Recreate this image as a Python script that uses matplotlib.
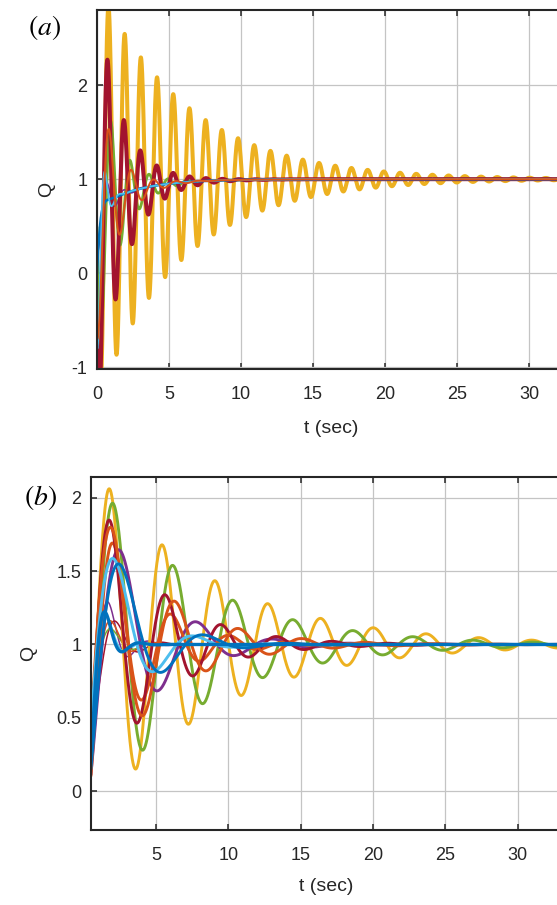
import numpy as np
import matplotlib
matplotlib.use('Agg')
import matplotlib.pyplot as plt

plt.rcParams['font.family'] = ['Liberation Sans', 'DejaVu Sans']
plt.rcParams['mathtext.fontset'] = 'stix'
plt.rcParams['axes.unicode_minus'] = False

# step responses described by first overshoot, time of first peak,
# oscillation period, decay ratio per period and a slow creeping term
a_colors = ['#EDB120', '#77AC30', '#7E2F8E', '#A2142F', '#0072BD', '#4DBEEE', '#D95319']
a_peak = [1.95, 0.83, 0.20, 1.50, -0.69, 0.30, 0.75]
a_tpeak = [0.80, 0.97, 0.70, 0.74, 0.00, 0.60, 0.85]
a_period = [1.125, 1.33, 1.20, 1.14, 2.00, 1.00, 1.55]
a_ratio = [0.83, 0.40, 0.20, 0.52, 1e-4, 0.05, 0.30]
a_slow_amp = [0.15, 0.31, 0.31, 0.31, 0.31, 0.31, 0.31]
a_slow_tau = 2.7
a_width = [2.9, 2.0, 1.2, 2.9, 1.8, 1.3, 1.4]

b_colors = ['#7E2F8E', '#4DBEEE', '#A2142F', '#77AC30', '#D95319',
            '#EDB120', '#77AC30', '#7E2F8E', '#D95319', '#A2142F',
            '#D95319', '#4DBEEE', '#0072BD', '#0072BD']
b_peak = [0.27, 0.18, 0.15, 0.10, 0.15,
          1.06, 0.96, 0.63, 0.68, 0.84, 0.79, 0.55, 0.52, 0.20]
b_tpeak = [1.80, 1.70, 2.30, 2.00, 2.00,
           1.80, 2.05, 2.60, 2.10, 1.84, 1.95, 2.30, 2.70, 1.60]
b_period = [2.8, 2.6, 3.2, 3.0, 3.0,
            3.65, 4.15, 5.3, 4.0, 3.85, 4.4, 5.5, 5.8, 2.4]
b_ratio = [0.08, 0.05, 0.10, 0.10, 0.08,
           0.64, 0.56, 0.24, 0.30, 0.40, 0.37, 0.10, 0.12, 0.05]
b_width = [1.1, 1.1, 1.1, 1.1, 1.1,
           2.1, 2.1, 2.1, 2.1, 2.1, 2.1, 2.1, 2.1, 2.4]


def response(t, peak, tp, period, ratio, slow_amp=0.0, slow_tau=1.0):
    sigma = -np.log(ratio) / period
    w = 2 * np.pi / period
    osc = peak * np.exp(-sigma * (t - tp)) * np.cos(w * (t - tp))
    return 1 - slow_amp * np.exp(-t / slow_tau) + osc


def style(ax):
    ax.grid(True, color='#c4c4c4', lw=0.9)
    ax.set_axisbelow(True)
    ax.tick_params(direction='in', length=4, width=1.1, top=True,
                   labelsize=13, colors='#262626', pad=7)
    ax.tick_params(axis='x', pad=12.5)
    for s in ax.spines.values():
        s.set_color('#262626')
        s.set_linewidth(1.5)
    ax.spines['right'].set_visible(False)


fig = plt.figure(figsize=(5.57, 9.05), dpi=100)

ax1 = fig.add_axes([97 / 557, 1 - 369 / 905, 468 / 557, 359 / 905])
t1 = np.linspace(0, 32.5, 8000)
for i in range(len(a_colors)):
    y = response(t1, a_peak[i], a_tpeak[i], a_period[i], a_ratio[i],
                 a_slow_amp[i], a_slow_tau)
    ax1.plot(t1, y, color=a_colors[i], lw=a_width[i])
ax1.set_xlim(0, 32.5)
ax1.set_ylim(-1.02, 2.8)
ax1.set_xticks([0, 5, 10, 15, 20, 25, 30])
ax1.set_yticks([-1, 0, 1, 2])
style(ax1)
ax1.set_xlabel('t (sec)', fontsize=14, color='#262626', labelpad=12)
ax1.set_ylabel('Q', fontsize=14, color='#262626', labelpad=12)
fig.text(45 / 557, 1 - 28 / 905, r'$(a)$', fontsize=20, ha='center', va='center')

ax2 = fig.add_axes([91 / 557, 1 - 830 / 905, 470 / 557, 353 / 905])
t2 = np.linspace(0.5, 33, 8000)
for i in range(len(b_colors)):
    y = response(t2, b_peak[i], b_tpeak[i], b_period[i], b_ratio[i])
    ax2.plot(t2, y, color=b_colors[i], lw=b_width[i])
ax2.set_xlim(0.5, 33)
ax2.set_ylim(-0.266, 2.143)
ax2.set_xticks([5, 10, 15, 20, 25, 30])
ax2.set_yticks([0, 0.5, 1, 1.5, 2])
ax2.set_yticklabels(['0', '0.5', '1', '1.5', '2'])
style(ax2)
ax2.set_xlabel('t (sec)', fontsize=14, color='#262626', labelpad=10)
ax2.set_ylabel('Q', fontsize=14, color='#262626', labelpad=14)
fig.text(40 / 557, 1 - 497 / 905, r'$(b)$', fontsize=20, ha='center', va='center')

fig.savefig('out.png', dpi=100)
